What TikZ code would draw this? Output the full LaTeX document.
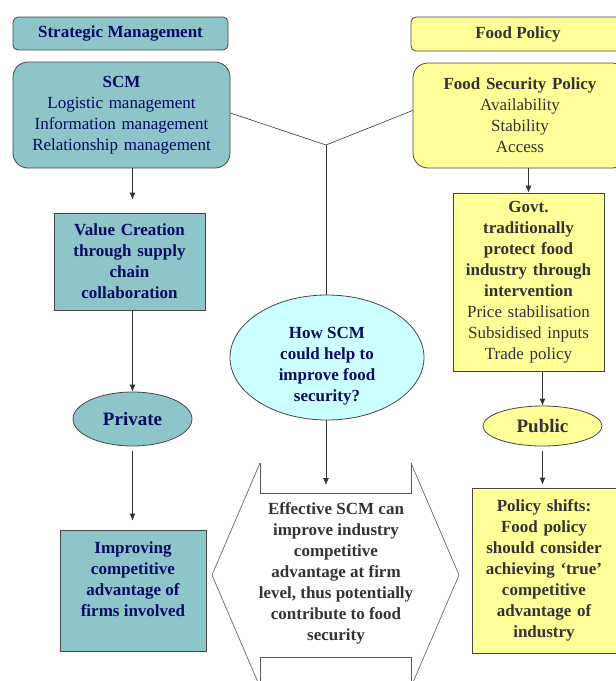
\documentclass[tikz,border=0pt]{standalone}
\usepackage{fontspec}
\setmainfont{Liberation Serif}
\usetikzlibrary{arrows.meta,shapes.geometric}
\definecolor{tealfill}{RGB}{141,197,200}
\definecolor{yelfill}{RGB}{255,255,153}
\definecolor{cyanfill}{RGB}{204,255,255}
\definecolor{navytext}{RGB}{10,10,100}
\definecolor{graytext}{RGB}{51,51,51}
\definecolor{bordergray}{RGB}{70,70,70}
\tikzset{
  box/.style={draw=bordergray, line width=0.8pt, inner sep=0pt, align=center,
    font=\fontsize{17}{21}\selectfont},
  tealbox/.style={box, fill=tealfill, text=navytext},
  yelbox/.style={box, fill=yelfill, text=graytext},
  txt/.style={align=center, inner sep=0pt, font=\fontsize{17}{21}\selectfont\bfseries},
  arr/.style={-{Latex[length=7pt,width=6pt]}, line width=0.8pt, draw=black!80},
  thinline/.style={line width=0.6pt, draw=black!80},
  hexline/.style={line width=0.6pt, draw=black!65},
}
\begin{document}
\begin{tikzpicture}[x=1pt,y=-1pt]
\useasboundingbox (0,0) rectangle (616,681);

% headers
\node[tealbox, rounded corners=5pt, minimum width=215pt, minimum height=33pt] (SM) at (120.5,33.5) {\textbf{Strategic Management}};
\node[yelbox, rounded corners=5pt, minimum width=214pt, minimum height=34pt] (FP) at (518,34) {\textbf{Food Policy}};

% top boxes
\node[tealbox, rounded corners=15pt, minimum width=217pt, minimum height=106pt, text width=215pt] (SCM) at (121.5,115)
  {\textbf{SCM}\\Logistic management\\Information management\\Relationship management};
\node[yelbox, rounded corners=15pt, minimum width=214pt, minimum height=105pt, text width=210pt] (FS) at (520,115.5)
  {\textbf{Food Security Policy}\\Availability\\Stability\\Access};

% left column
\node[tealbox, minimum width=151pt, minimum height=97pt, text width=149pt, font=\fontsize{17}{21}\selectfont\bfseries] (VC) at (129.5,261.5)
  {Value Creation\\through supply\\chain\\collaboration};
\node[tealbox, ellipse, minimum width=119pt, minimum height=54pt, font=\fontsize{19}{21}\selectfont\bfseries] (PR) at (132.5,419) {Private};
\node[tealbox, minimum width=146pt, minimum height=121pt] (IM) at (133,590.5) {};
\node[txt, text=navytext] (IMT) at (133,579.5)
  {Improving\\competitive\\advantage of\\firms involved};

% right column
\node[yelbox, minimum width=151pt, minimum height=178pt, text width=149pt] (GV) at (528.5,282)
  {\textbf{Govt.}\\\textbf{traditionally}\\\textbf{protect food}\\\textbf{industry through}\\\textbf{intervention}\\Price stabilisation\\Subsidised inputs\\Trade policy};
\node[yelbox, ellipse, minimum width=119pt, minimum height=40pt, font=\fontsize{19}{21}\selectfont\bfseries] (PU) at (542.5,426) {Public};
\node[yelbox, minimum width=144pt, minimum height=165pt, text width=142pt, font=\fontsize{17}{21}\selectfont\bfseries] (PS) at (544,570.5)
  {Policy shifts:\\Food policy\\should consider\\achieving ‘true’\\competitive\\advantage of\\industry};

% centre
\node[box, ellipse, fill=cyanfill, minimum width=194pt, minimum height=125pt] (HS) at (327,357.5) {};
\node[txt, text=navytext] (HST) at (327,366)
  {How SCM\\could help to\\improve food\\security?};

\coordinate (J) at (326,145);
\coordinate (TL) at (260,463);
\coordinate (LT) at (212,575);
\coordinate (BL) at (260,687);
\coordinate (TR) at (411,463);
\coordinate (RT) at (459,575);
\coordinate (BR) at (411,687);
\coordinate (TLi) at (260,493);
\coordinate (TRi) at (411,493);
\coordinate (BLi) at (260,657);
\coordinate (BRi) at (411,657);
\coordinate (HexTop) at (326,493);

\draw[hexline] (TL) -- (LT) -- (BL);
\draw[hexline] (TR) -- (RT) -- (BR);
\draw[hexline] (TL) -- (TLi) -- (TRi) -- (TR);
\draw[hexline] (BL) -- (BLi) -- (BRi) -- (BR);
\node[txt, text=graytext] (EF) at (336,573)
  {Effective SCM can\\improve industry\\competitive\\advantage at firm\\level, thus potentially\\contribute to food\\security};

% connectors
\draw[thinline] ([yshift=2pt]SCM.east) -- (J) -- ([yshift=5pt]FS.west);
\draw[thinline] (J) -- (J |- HS.north);
\draw[arr, shorten >=8pt] (HS.south -| J) -- (HexTop);
\draw[arr, shorten >=13pt] (SCM.south -| PR.north) -- (VC.north -| PR.north);
\draw[arr] (VC.south -| PR.north) -- (PR.north);
\draw[arr, shorten <=5pt, shorten >=9pt] (PR.south) -- (IM.north -| PR.south);
\draw[arr] (FS.south -| GV.north) -- (GV.north);
\draw[arr] (GV.south -| PU.north) -- (PU.north);
\draw[arr, shorten <=5pt, shorten >=3pt] (PU.south) -- (PS.north -| PU.south);
\end{tikzpicture}
\end{document}
